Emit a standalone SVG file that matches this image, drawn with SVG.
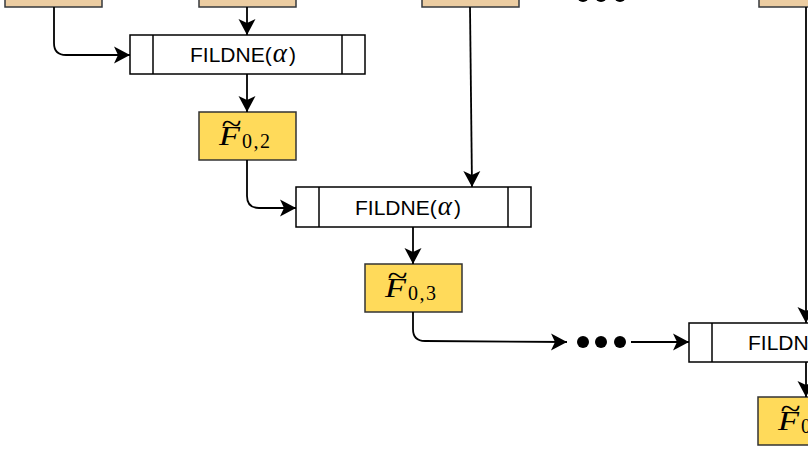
<svg xmlns="http://www.w3.org/2000/svg" width="808" height="455" viewBox="0 0 808 455">
<defs>
<style>
.tan{fill:#ECCDA2;stroke:#36393D;stroke-width:1.5}
.yel{fill:#FFDA5A;stroke:#333333;stroke-width:1.5}
.proc{fill:#FFFFFF;stroke:#000000;stroke-width:1.5}
.div{stroke:#000000;stroke-width:1.5;fill:none}
.lbl{font-family:"Liberation Sans",Arial,sans-serif;font-size:21px;fill:#000}
.al{font-family:"Liberation Serif","Times New Roman",serif;font-style:italic;font-size:27px}
.fv{font-family:"Liberation Serif","Times New Roman",serif;font-style:italic;font-size:27px;fill:#000}
.sub{font-family:"Liberation Serif","Times New Roman",serif;font-size:20px;fill:#000;letter-spacing:1.5px}
.til{font-family:"Liberation Serif","Times New Roman",serif;font-size:30px;fill:#000}
.edge{fill:none;stroke:#000;stroke-width:1.8}
.dot{fill:#000}
</style>
<marker id="ah" viewBox="-17 -9 18 18" refX="0" refY="0" markerWidth="18" markerHeight="18" orient="auto" markerUnits="userSpaceOnUse">
<path d="M0,0 L-16,-8.5 L-12,0 L-16,8.5 Z" fill="#000"/>
</marker>
</defs>

<g id="input1"><rect class="tan" x="5" y="-41" width="97" height="48"/></g>
<g id="input2"><rect class="tan" x="199" y="-41" width="97" height="48"/></g>
<g id="input3"><rect class="tan" x="422" y="-41" width="97" height="48"/></g>
<g id="input4"><rect class="tan" x="759" y="-41" width="97" height="48"/></g>
<g id="dots-top">
<circle class="dot" cx="583" cy="-4" r="6"/><circle class="dot" cx="601" cy="-4" r="6"/><circle class="dot" cx="620" cy="-4" r="6"/>
</g>

<g id="fildne1">
<rect class="proc" x="130" y="35" width="235" height="39"/>
<line class="div" x1="153" y1="35" x2="153" y2="74"/><line class="div" x1="342" y1="35" x2="342" y2="74"/>
<text class="lbl" x="190" y="62">FILDNE(<tspan class="al" dx="1">α</tspan><tspan dx="2">)</tspan></text>
</g>
<g id="f02">
<rect class="yel" x="199" y="112" width="97" height="48"/>
<text class="til" x="231.5" y="134" text-anchor="middle" textLength="20" lengthAdjust="spacingAndGlyphs">~</text>
<text class="fv" x="219" y="145" textLength="21" lengthAdjust="spacingAndGlyphs">F</text>
<text class="sub" x="242" y="148">0,2</text>
</g>

<g id="fildne2">
<rect class="proc" x="296" y="187" width="235" height="40"/>
<line class="div" x1="319" y1="187" x2="319" y2="227"/><line class="div" x1="508" y1="187" x2="508" y2="227"/>
<text class="lbl" x="355" y="215">FILDNE(<tspan class="al" dx="1">α</tspan><tspan dx="2">)</tspan></text>
</g>
<g id="f03">
<rect class="yel" x="365" y="264" width="97" height="48"/>
<text class="til" x="397.5" y="286" text-anchor="middle" textLength="20" lengthAdjust="spacingAndGlyphs">~</text>
<text class="fv" x="385" y="297" textLength="21" lengthAdjust="spacingAndGlyphs">F</text>
<text class="sub" x="408" y="300">0,3</text>
</g>

<g id="dots-mid">
<circle class="dot" cx="583" cy="342" r="6"/><circle class="dot" cx="601" cy="342" r="6"/><circle class="dot" cx="620" cy="342" r="6"/>
</g>

<g id="fildne3">
<rect class="proc" x="689" y="323" width="235" height="39"/>
<line class="div" x1="712" y1="323" x2="712" y2="362"/><line class="div" x1="901" y1="323" x2="901" y2="362"/>
<text class="lbl" x="748" y="350">FILDNE(<tspan class="al" dx="1">α</tspan><tspan dx="2">)</tspan></text>
</g>
<g id="f0n">
<rect class="yel" x="758" y="397" width="97" height="48"/>
<text class="til" x="790.5" y="419" text-anchor="middle" textLength="20" lengthAdjust="spacingAndGlyphs">~</text>
<text class="fv" x="778" y="430" textLength="21" lengthAdjust="spacingAndGlyphs">F</text>
<text class="sub" x="801" y="433">0</text>
</g>

<g id="connectors">
<path class="edge" d="M54,7 L54,43 Q54,55 66,55 L130,55" marker-end="url(#ah)"/>
<path class="edge" d="M247,7 L247,35" marker-end="url(#ah)"/>
<path class="edge" d="M247,74 L247,112" marker-end="url(#ah)"/>
<path class="edge" d="M247,160 L247,196 Q247,208 259,208 L296,208" marker-end="url(#ah)"/>
<path class="edge" d="M470,7 L472,187" marker-end="url(#ah)"/>
<path class="edge" d="M413,227 L413,264" marker-end="url(#ah)"/>
<path class="edge" d="M413,312 L413,329 Q413,341 425,341 L567,342" marker-end="url(#ah)"/>
<path class="edge" d="M631,342 L689,342" marker-end="url(#ah)"/>
<path class="edge" d="M806,7 L806,323" marker-end="url(#ah)"/>
<path class="edge" d="M806,362 L806,397" marker-end="url(#ah)"/>
</g>
</svg>
